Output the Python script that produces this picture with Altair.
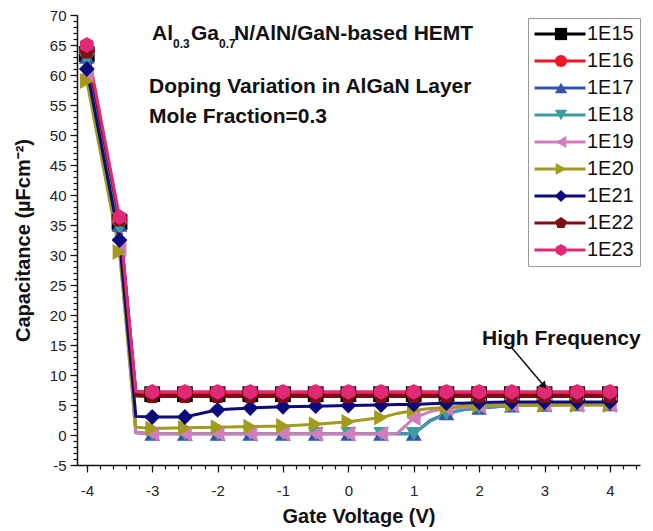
import altair as alt
import pandas as pd

# gate voltage positions of the computed curve points
x_line = [-4, -3.5, -3.25, -3, -2.5, -2, -1.5, -1, -0.5, 0, 0.5, 0.75, 1, 1.25, 1.5, 1.75, 2, 2.5, 3, 3.5, 4]

series = ["1E15", "1E16", "1E17", "1E18", "1E19", "1E20", "1E21", "1E22", "1E23"]

c_1e15 = [63.5, 35.5, 6.9, 6.8, 6.8, 6.8, 6.8, 6.8, 6.8, 6.8, 6.8, 6.8, 6.8, 6.8, 6.8, 6.8, 6.8, 6.8, 6.8, 6.8, 6.8]
c_1e16 = [64.0, 35.8, 7.1, 7.0, 7.0, 7.0, 7.0, 7.0, 7.0, 7.0, 7.0, 7.0, 7.0, 7.0, 7.0, 7.0, 7.0, 7.0, 7.0, 7.0, 7.0]
c_1e17 = [63.0, 35.0, 0.4, 0.2, 0.2, 0.2, 0.2, 0.2, 0.2, 0.2, 0.2, 0.2, 0.2, 2.4, 3.6, 4.2, 4.5, 4.9, 5.0, 5.1, 5.1]
c_1e18 = [62.5, 34.5, 0.4, 0.2, 0.2, 0.2, 0.2, 0.2, 0.2, 0.2, 0.2, 0.2, 0.2, 2.3, 3.5, 4.2, 4.5, 4.9, 5.0, 5.1, 5.1]
c_1e19 = [60.0, 31.0, 0.4, 0.2, 0.2, 0.2, 0.2, 0.2, 0.2, 0.2, 0.2, 0.3, 2.8, 3.9, 4.4, 4.6, 4.8, 5.0, 5.0, 5.0, 5.0]
c_1e20 = [59.0, 30.5, 1.3, 1.1, 1.2, 1.3, 1.4, 1.5, 1.8, 2.2, 2.9, 3.6, 4.1, 4.4, 4.6, 4.8, 4.9, 5.0, 5.0, 5.0, 5.0]
c_1e21 = [61.0, 32.5, 3.1, 3.0, 3.0, 4.2, 4.5, 4.7, 4.8, 4.9, 5.0, 5.1, 5.1, 5.2, 5.3, 5.3, 5.4, 5.5, 5.5, 5.5, 5.5]
c_1e22 = [63.8, 35.8, 6.5, 6.4, 6.4, 6.4, 6.4, 6.4, 6.4, 6.4, 6.4, 6.4, 6.4, 6.4, 6.4, 6.4, 6.4, 6.4, 6.4, 6.4, 6.4]
c_1e23 = [65.0, 36.3, 7.3, 7.2, 7.2, 7.2, 7.2, 7.2, 7.2, 7.2, 7.2, 7.2, 7.2, 7.2, 7.2, 7.2, 7.2, 7.2, 7.2, 7.2, 7.2]

all_vals = [c_1e15, c_1e16, c_1e17, c_1e18, c_1e19, c_1e20, c_1e21, c_1e22, c_1e23]

colors = ["#000000", "#EE1526", "#3352B0", "#3E9CA3", "#D17DBB", "#A39B1C", "#0B0B7C", "#800C14", "#E02A78"]
pentagon = "M0,-1L0.951,-0.309L0.588,0.809L-0.588,0.809L-0.951,-0.309Z"
hexagon = "M0,-1L0.866,-0.5L0.866,0.5L0,1L-0.866,0.5L-0.866,-0.5Z"
shapes = ["square", "circle", "triangle-up", "triangle-down", "triangle-left",
          "triangle-right", "diamond", pentagon, hexagon]
legend_line = "M-4.25,0L4.25,0"

x_major = [-4, -3, -2, -1, 0, 1, 2, 3, 4]
x_minor = [round(-4 + 0.2 * i, 1) for i in range(0, 43)]
y_major = [-5, 0, 5, 10, 15, 20, 25, 30, 35, 40, 45, 50, 55, 60, 65, 70]
y_minor = list(range(-5, 71))

series_b = [s + " " for s in series]  # keeps the marker legend separate from the line legend

rows = []
for s, sb, vals in zip(series, series_b, all_vals):
    for x, y in zip(x_line, vals):
        rows.append({"Doping": s, "Doping2": sb, "V": x, "C": y, "mk": float(x * 2).is_integer()})
df = pd.DataFrame(rows)
df_pts = df[df["mk"]]

FONT = "Liberation Sans"
xs = alt.Scale(domain=[-4.15, 4.46], nice=False, zero=False)
ys = alt.Scale(domain=[-5, 70], nice=False, zero=False)
LBL = "'' + datum.value"

major_x = alt.Axis(values=x_major, orient="bottom", title="Gate Voltage (V)", tickSize=7,
                   labelPadding=11, titlePadding=8, grid=False, labelExpr=LBL)
major_y = alt.Axis(values=y_major, orient="left", title="Capacitance (µFcm⁻²)", tickSize=7,
                   labelPadding=4, titlePadding=16, grid=False, labelExpr=LBL)
minor_x = alt.Axis(values=x_minor, orient="bottom", title=None, labels=False, domain=False,
                   tickSize=4, grid=False)
minor_y = alt.Axis(values=y_minor, orient="left", title=None, labels=False, domain=False,
                   tickSize=4, grid=False)

legA = alt.Legend(orient="none", legendX=451, legendY=3, symbolType=legend_line, symbolSize=144,
                  symbolStrokeWidth=3, labelFontSize=20, labelFont=FONT, labelColor="#111",
                  strokeColor="#999999", fillColor="white", padding=6, rowPadding=7,
                  symbolOffset=16, labelOffset=17, zindex=1)
legB = alt.Legend(orient="none", legendX=451, legendY=3, symbolSize=150, labelFontSize=20,
                  labelFont=FONT, labelOpacity=0, labelExpr="''", padding=6, rowPadding=7,
                  labelOffset=4, symbolOffset=17, zindex=2, symbolStrokeWidth=0)

lines = alt.Chart(df).mark_line(strokeWidth=3).encode(
    x=alt.X("V:Q", scale=xs, axis=major_x),
    y=alt.Y("C:Q", scale=ys, axis=major_y),
    color=alt.Color("Doping:N", scale=alt.Scale(domain=series, range=colors), legend=legA, title=None),
    order="V:Q",
)

points = alt.Chart(df_pts).mark_point(filled=True, size=250, opacity=1).encode(
    x=alt.X("V:Q", scale=xs, axis=None),
    y=alt.Y("C:Q", scale=ys, axis=None),
    fill=alt.Fill("Doping2:N", scale=alt.Scale(domain=series_b, range=colors), legend=legB, title=None),
    shape=alt.Shape("Doping2:N", scale=alt.Scale(domain=series_b, range=shapes), legend=legB, title=None),
)

minor = alt.Chart(df).mark_point(opacity=0).encode(
    x=alt.X("V:Q", scale=xs, axis=minor_x),
    y=alt.Y("C:Q", scale=ys, axis=minor_y),
)

one = pd.DataFrame({"a": [0]})

def txt(t, x, y, size=21, bold=True):
    return alt.Chart(one).mark_text(text=t, align="left", baseline="alphabetic", font=FONT,
                                    fontSize=size, fontWeight="bold" if bold else "normal",
                                    color="#111").encode(x=alt.value(x), y=alt.value(y))

annotations = [
    txt("Al", 75, 25), txt("0.3", 96, 33, 12), txt("Ga", 114, 25), txt("0.7", 142, 33, 12),
    txt("N/AlN/GaN-based HEMT", 157, 25),
    txt("Doping Variation in AlGaN Layer", 72, 78),
    txt("Mole Fraction=0.3", 72, 108),
    txt("High Frequency", 405, 330),
]

arrow = alt.Chart(one).mark_rule(color="#111", strokeWidth=1.5).encode(
    x=alt.value(435), y=alt.value(333), x2=alt.value(468), y2=alt.value(372))
head = alt.Chart(one).mark_point(shape="triangle-up", filled=True, color="#111", size=70,
                                 angle=140, opacity=1).encode(x=alt.value(467), y=alt.value(371))

chart = alt.layer(minor, lines, points, *annotations, arrow, head).resolve_axis(
    x="independent", y="independent"
).properties(
    width=563, height=450,
    autosize=alt.AutoSizeParams(type="none"),
    padding={"left": 69, "top": 7, "right": 5, "bottom": 66},
).configure_view(stroke="transparent").configure_axis(
    domainColor="#111", domainWidth=1.5, tickColor="#111", tickWidth=1.2,
    labelFont=FONT, labelFontSize=15, labelColor="#222",
    titleFont=FONT, titleFontSize=20, titleFontWeight="bold", titleColor="#111",
)

chart.save("out.html", embed_options={"renderer": "svg", "actions": False})
